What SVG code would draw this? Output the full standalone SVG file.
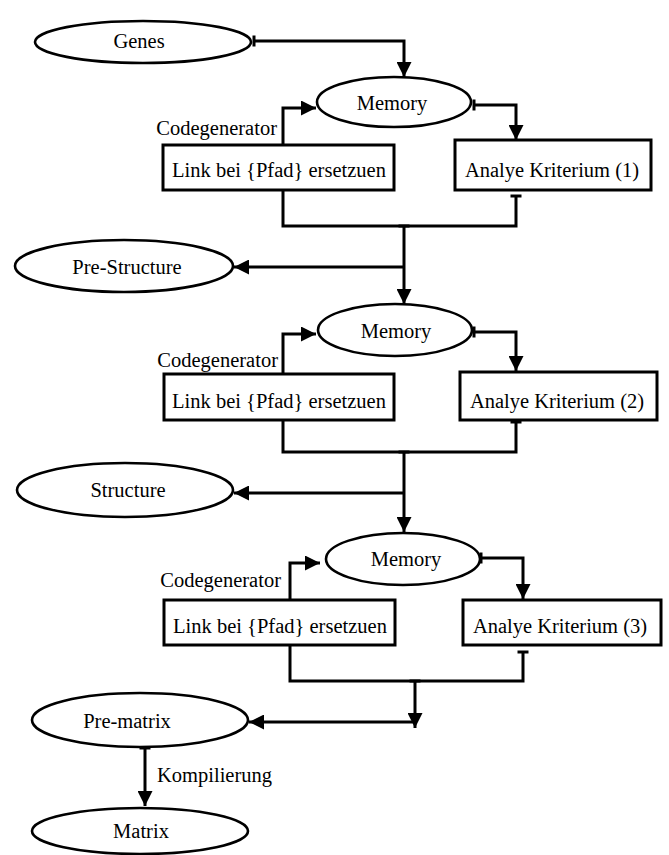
<svg xmlns="http://www.w3.org/2000/svg" width="669" height="855" viewBox="0 0 669 855" font-family="'Liberation Serif', 'DejaVu Serif', 'Times New Roman', serif">
<style>
  .node ellipse { fill: #fff; stroke: #000; stroke-width: 2.6; }
  .node rect { fill: #fff; stroke: #000; stroke-width: 3; }
  text { font-family: 'Liberation Serif', 'DejaVu Serif', 'Times New Roman', serif; font-size: 20.5px; fill: #000; }
  .c { text-anchor: middle; }
  .e { text-anchor: end; }
  #connectors path { fill: none; stroke: #000; stroke-width: 3; }
  .a { marker-end: url(#arrow); }
  .t { marker-start: url(#tee); }
</style>
<defs>
  <marker id="arrow" markerUnits="userSpaceOnUse" markerWidth="16" markerHeight="15" viewBox="0 0 16 15" refX="15" refY="7.5" orient="auto">
    <path d="M0,0 L15,7.5 L0,15 z" fill="#000"/>
  </marker>
  <marker id="tee" markerUnits="userSpaceOnUse" markerWidth="4" markerHeight="13" viewBox="-2 -6.5 4 13" refX="0" refY="0" orient="auto">
    <path d="M0,-5.5 V5.5" stroke="#000" stroke-width="3" fill="none"/>
  </marker>
</defs>
<rect width="669" height="855" fill="#fff"/>

<g id="connectors">
  <!-- section 1 -->
  <path class="t a" d="M254,41 H404 V77"/>
  <path class="a" d="M283,145 V108 H316"/>
  <path class="t a" d="M474,105 H516 V140"/>
  <path class="t" d="M516,196 V226 H283 V190"/>
  <path class="t a" d="M404,226 V304"/>
  <path class="a" d="M404,267 H234"/>
  <!-- section 2 -->
  <path class="a" d="M283,374 V334 H316"/>
  <path class="t a" d="M474,332 H516 V371"/>
  <path class="t" d="M516,422 V452 H283 V420"/>
  <path class="t a" d="M404,452 V532"/>
  <path class="a" d="M404,493 H234"/>
  <!-- section 3 -->
  <path class="a" d="M290,600 V563 H320"/>
  <path class="t a" d="M481,558 H523 V599"/>
  <path class="t" d="M523,652 V681 H290 V645"/>
  <path class="t a" d="M415,681 V728"/>
  <path class="a" d="M415,722 H249"/>
  <path class="t a" d="M145,748 V806"/>
  <text x="157" y="782" font-family="'Liberation Serif', 'DejaVu Serif', serif">Kompilierung</text>
</g>

<g id="genes" class="node">
  <ellipse cx="143" cy="42" rx="108" ry="21"/>
  <text class="c" x="139" y="48">Genes</text>
</g>

<g id="memory1" class="node">
  <ellipse cx="394" cy="102" rx="77" ry="25"/>
  <text class="c" x="392" y="110">Memory</text>
</g>
<g id="link1" class="node">
  <rect x="163" y="145" width="231" height="45"/>
  <text class="c" x="279" y="177">Link bei {Pfad} ersetzuen</text>
  <text class="e" x="277" y="135">Codegenerator</text>
</g>
<g id="analyse1" class="node">
  <rect x="455" y="140" width="196" height="50"/>
  <text class="c" x="552" y="177">Analye Kriterium (1)</text>
</g>
<g id="prestructure" class="node">
  <ellipse cx="124" cy="266" rx="109" ry="26"/>
  <text class="c" x="127" y="274">Pre-Structure</text>
</g>

<g id="memory2" class="node">
  <ellipse cx="395" cy="330" rx="77" ry="26"/>
  <text class="c" x="396" y="338">Memory</text>
</g>
<g id="link2" class="node">
  <rect x="164" y="374" width="230" height="46"/>
  <text class="c" x="279" y="408">Link bei {Pfad} ersetzuen</text>
  <text class="e" x="278" y="367">Codegenerator</text>
</g>
<g id="analyse2" class="node">
  <rect x="460" y="372" width="197" height="48"/>
  <text class="c" x="557" y="408">Analye Kriterium (2)</text>
</g>
<g id="structure" class="node">
  <ellipse cx="125" cy="490" rx="108" ry="27"/>
  <text class="c" x="128" y="497">Structure</text>
</g>

<g id="memory3" class="node">
  <ellipse cx="403" cy="559" rx="77" ry="26"/>
  <text class="c" x="406" y="566">Memory</text>
</g>
<g id="link3" class="node">
  <rect x="164" y="600" width="231" height="45"/>
  <text class="c" x="280" y="633">Link bei {Pfad} ersetzuen</text>
  <text class="e" x="281" y="587">Codegenerator</text>
</g>
<g id="analyse3" class="node">
  <rect x="463" y="600" width="198" height="45"/>
  <text class="c" x="560" y="633">Analye Kriterium (3)</text>
</g>
<g id="prematrix" class="node">
  <ellipse cx="140" cy="720" rx="108" ry="27"/>
  <text class="c" x="127" y="728">Pre-matrix</text>
</g>
<g id="matrix" class="node">
  <ellipse cx="140" cy="831" rx="108" ry="23"/>
  <text class="c" x="141" y="838">Matrix</text>
</g>
</svg>
